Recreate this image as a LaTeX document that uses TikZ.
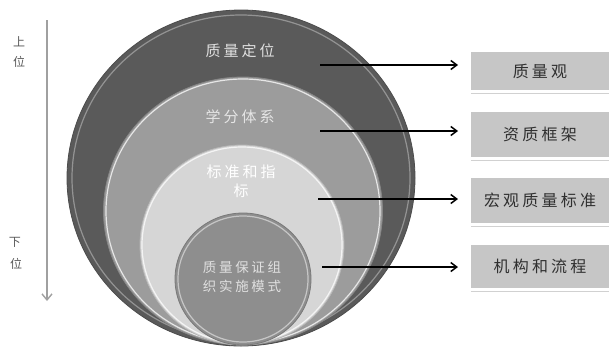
\documentclass[tikz,border=0pt]{standalone}
\usepackage{fontspec}
\newfontfamily\cjk[LetterSpace=20]{Noto Sans CJK SC}
\newfontfamily\cjkn{Noto Sans CJK SC}
\usetikzlibrary{shapes.geometric,arrows.meta}
\definecolor{ringA}{HTML}{5A5A5A}
\definecolor{ringB}{HTML}{9C9C9C}
\definecolor{ringC}{HTML}{D6D6D6}
\definecolor{ringD}{HTML}{8E8E8E}
\definecolor{boxfill}{HTML}{C6C6C6}
\definecolor{boxtext}{HTML}{303030}
\definecolor{axisgray}{HTML}{A0A0A0}
\tikzset{
  disc/.style={ellipse, inner sep=0pt, draw=#1!85!black, line width=0.8pt, fill=#1},
  rim/.style={draw=white, opacity=0.75, line width=1.2pt},
  intext/.style={font=\cjk\fontsize{15}{19}\selectfont, align=center, inner sep=0pt},
  lbl/.style={draw=none, fill=boxfill, minimum width=138pt, minimum height=#1, inner sep=0pt,
    font=\cjk\fontsize{16}{19}\selectfont, text=boxtext},
  ptr/.style={draw=black, line width=1.5pt, -{Straight Barb[length=6pt,width=9pt,line width=1.5pt]}},
  side/.style={font=\cjkn\fontsize{12}{14}\selectfont, text=black!65, inner sep=0pt}
}
\begin{document}
\begin{tikzpicture}[x=1pt,y=-1pt]
\useasboundingbox (0,0) rectangle (612,346);
% nested discs
\node[disc=ringA, minimum width=348pt, minimum height=336pt] (d1) at (241,178) {};
\draw[rim, opacity=0.35] (d1.center) ellipse [x radius=169pt, y radius=163pt];
\node[disc=ringB, minimum width=279pt, minimum height=268pt] (d2) at (243,211) {};
\draw[rim] (d2.center) ellipse [x radius=137pt, y radius=132pt];
\node[disc=ringC, minimum width=204pt, minimum height=200pt] (d3) at (242,245) {};
\draw[rim] (d3.center) ellipse [x radius=100pt, y radius=98pt];
\node[disc=ringD, minimum width=136pt, minimum height=132pt] (d4) at (243,279) {};
\draw[rim, opacity=0.5] (d4.center) ellipse [x radius=65pt, y radius=63pt];
% texts in discs
\node[intext, text=black!12] (t1) at (240,51) {质量定位};
\node[intext, text=black!10] (t2) at (240,117) {学分体系};
\node[intext, text=white] (t3) at (241,181) {标准和指\\标};
\node[intext, text=black!12, font=\cjk\fontsize{13.5}{19}\selectfont] (t4) at (242,277) {质量保证组\\织实施模式};
% boxes
\node[lbl=38pt] (b1) at (540,71) {质量观};
\node[lbl=45pt] (b2) at (540,134.5) {资质框架};
\node[lbl=45pt] (b3) at (540,200.5) {宏观质量标准};
\node[lbl=43pt] (b4) at (540,266.5) {机构和流程};
\foreach \b in {b1,b2,b3,b4}{
  \draw[black!18, line width=0.8pt] ([yshift=-3pt]\b.south west) -- ([yshift=-3pt]\b.south east);
}
% arrows
\coordinate (s1) at (320,65);  \coordinate (e1) at (458,65);
\coordinate (s2) at (320,131); \coordinate (e2) at (458,131);
\coordinate (s3) at (318,199); \coordinate (e3) at (458,199);
\coordinate (s4) at (322,267); \coordinate (e4) at (458,267);
\draw[ptr] (s1) -- (e1);
\draw[ptr] (s2) -- (e2);
\draw[ptr] (s3) -- (e3);
\draw[ptr] (s4) -- (e4);
% vertical axis
\coordinate (ax1) at (47,20);
\coordinate (ax2) at (47,301);
\draw[axisgray, line width=1.4pt, -{Straight Barb[length=6pt,width=10pt,line width=1.4pt]}] (ax1) -- (ax2);
\node[side] (u1) at (19,42) {上};
\node[side] (u2) at (19,62) {位};
\node[side] (l1) at (15,242) {下};
\node[side] (l2) at (16,264) {位};
\end{tikzpicture}
\end{document}
